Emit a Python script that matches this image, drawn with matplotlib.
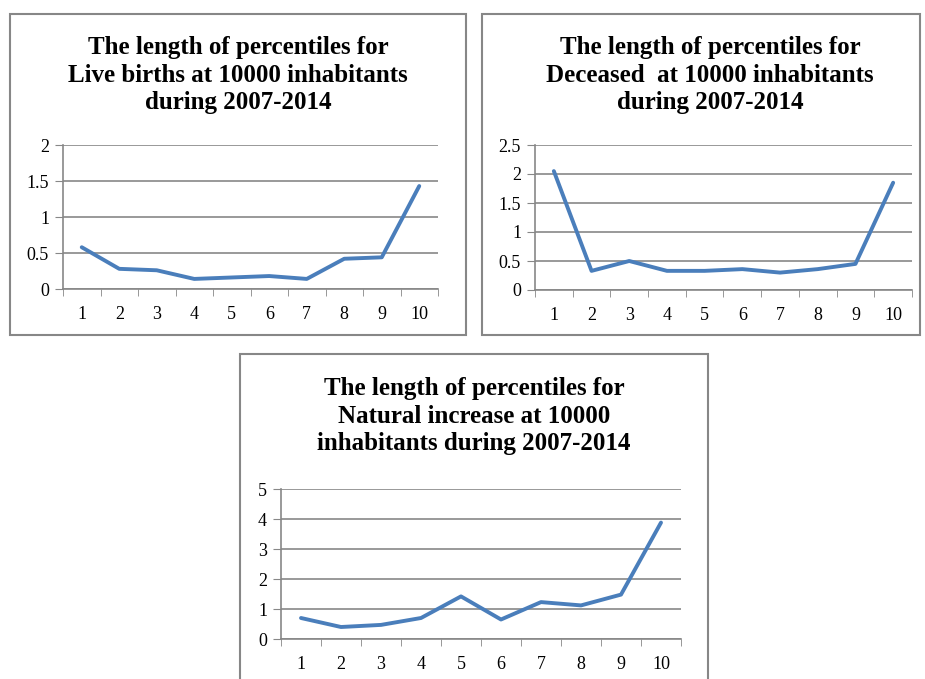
import numpy as np
import matplotlib
matplotlib.use('Agg')
from matplotlib import pyplot as plt
from matplotlib.patches import Rectangle

# data
percentiles = list(range(1, 11))
live_births = [0.58, 0.28, 0.26, 0.14, 0.16, 0.18, 0.14, 0.42, 0.44, 1.43]
deceased = [2.05, 0.33, 0.50, 0.33, 0.33, 0.36, 0.30, 0.36, 0.45, 1.85]
natural_increase = [0.70, 0.40, 0.47, 0.70, 1.42, 0.65, 1.23, 1.12, 1.48, 3.88]

titles = ["The length of percentiles for\nLive births at 10000 inhabitants\nduring 2007-2014",
          "The length of percentiles for\nDeceased  at 10000 inhabitants\nduring 2007-2014",
          "The length of percentiles for\nNatural increase at 10000\ninhabitants during 2007-2014"]
yticks = [[0, 0.5, 1, 1.5, 2], [0, 0.5, 1, 1.5, 2, 2.5], [0, 1, 2, 3, 4, 5]]
series = [live_births, deceased, natural_increase]

W, H = 925, 679
plt.rcParams['font.family'] = 'Liberation Serif'
fig = plt.figure(figsize=(W / 100, H / 100), dpi=100)

# (box x0, y0, x1, y1), (plot x0, y0, x1, y1), title centre (x, y) in pixels
layout = [((10, 14, 466, 335), (63, 145, 438, 289), (238, 75)),
          ((482, 14, 920, 335), (535, 145, 912, 290), (710, 75)),
          ((240, 354, 708, 690), (281, 489, 681, 639), (474, 416))]

grey = '#878787'
line_col = '#4A7EBB'

for (box, area, tpos), vals, title, yt in zip(layout, series, titles, yticks):
    bx0, by0, bx1, by1 = box
    fig.patches.append(Rectangle((bx0 / W, 1 - by1 / H), (bx1 - bx0) / W, (by1 - by0) / H,
                                 transform=fig.transFigure, fill=False,
                                 edgecolor=grey, linewidth=1.5))
    px0, py0, px1, py1 = area
    ax = fig.add_axes([px0 / W, 1 - py1 / H, (px1 - px0) / W, (py1 - py0) / H])
    ax.plot(percentiles, vals, color=line_col, linewidth=2.8, solid_capstyle='round')
    ax.set_xlim(0.5, 10.5)
    ax.set_ylim(yt[0], yt[-1])
    ax.set_yticks(yt)
    ax.set_yticklabels([f'{v:g}' for v in yt], fontsize=13)
    ax.set_xticks(percentiles)
    ax.set_xticklabels([str(p) for p in percentiles], fontsize=13)
    ax.set_xticks(np.arange(0.5, 11, 1), minor=True)
    ax.tick_params(axis='x', which='major', length=0, pad=12)
    ax.tick_params(axis='x', which='minor', length=5, color=grey)
    ax.tick_params(axis='y', length=6, color=grey, pad=4)
    ax.yaxis.grid(True, color=grey, linewidth=1.2)
    ax.set_axisbelow(True)
    for s in ['top', 'right']:
        ax.spines[s].set_visible(False)
    for s in ['left', 'bottom']:
        ax.spines[s].set_color(grey)
        ax.spines[s].set_linewidth(1.2)
    fig.text(tpos[0] / W, 1 - tpos[1] / H, title, ha='center', va='center',
             fontsize=18, fontweight='bold', linespacing=1.25)

plt.savefig('out.png', dpi=100)
plt.close()
